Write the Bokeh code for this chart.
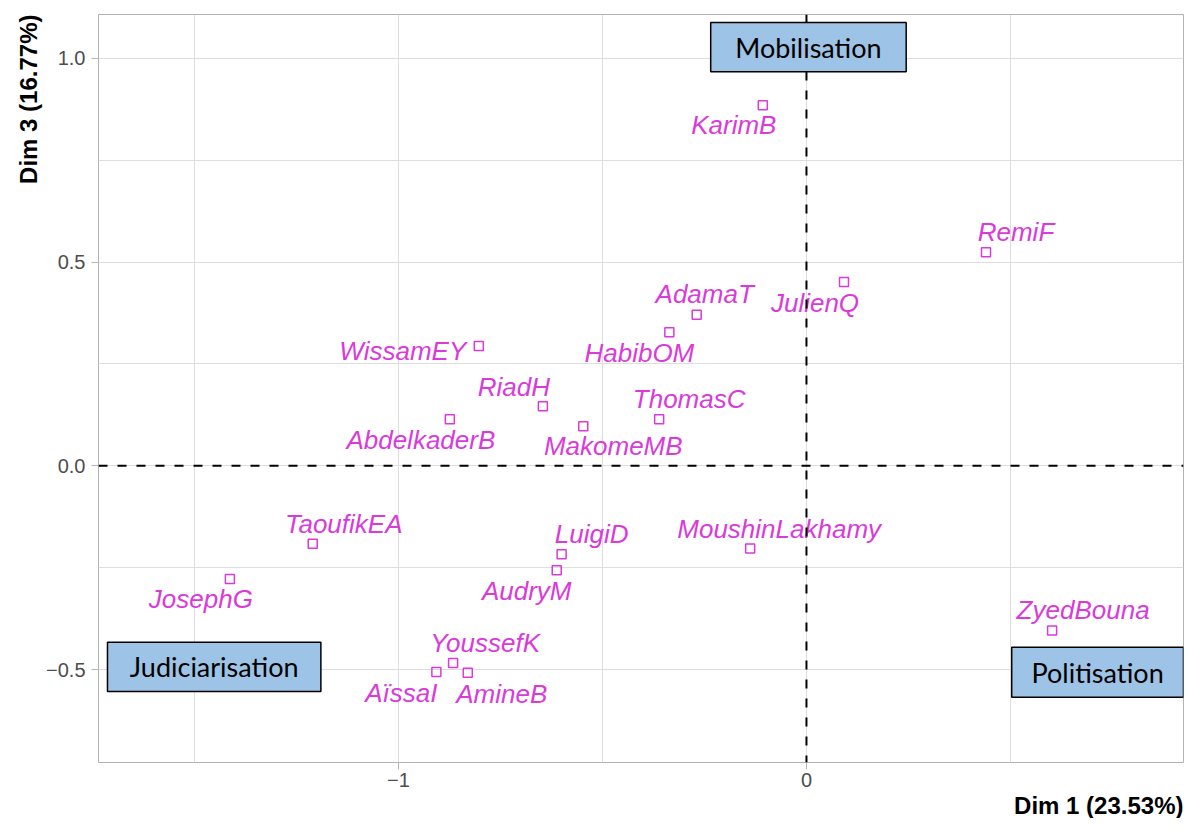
from bokeh.plotting import figure
from bokeh.models import (Range1d, FixedTicker, Title, BoxAnnotation, Label, Span,
                          ColumnDataSource, CustomJSTickFormatter)
from bokeh.core.properties import value
from bokeh.embed import file_html
from bokeh.resources import INLINE

# ---- data ----
names = ["KarimB", "RemiF", "JulienQ", "AdamaT", "HabibOM", "WissamEY", "RiadH",
         "AbdelkaderB", "MakomeMB", "ThomasC", "TaoufikEA", "JosephG", "LuigiD",
         "AudryM", "MoushinLakhamy", "ZyedBouna", "YoussefK", "AïssaI", "AmineB"]
dim1 = [-0.107, 0.440, 0.092, -0.269, -0.336, -0.803, -0.646,
        -0.874, -0.547, -0.361, -1.210, -1.413, -0.600,
        -0.612, -0.138, 0.602, -0.866, -0.907, -0.830]
dim3 = [0.885, 0.524, 0.451, 0.371, 0.328, 0.294, 0.146,
        0.114, 0.097, 0.114, -0.191, -0.278, -0.217,
        -0.256, -0.203, -0.404, -0.484, -0.506, -0.508]

# label placement (screen px offsets from the point, y downwards)
label_dx = [-29, 30, -29, 8, -30, -76, -29, -29, 30, 30, 31, -29, 30, -30, 29, 31, 32, -35, 34]
label_dy = [20, -20, 21, -21, 21, 5, -19, 21, 20, -20, -20, 20, -20, 21, -20, -20, -20, 21, 21]

x_ticks = [-1, 0]
x_minor = [-1.5, -0.5, 0.5]
y_ticks = [-0.5, 0.0, 0.5, 1.0]
y_minor = [-0.25, 0.25, 0.75]

x_title = "Dim 1 (23.53%)"
y_title = "Dim 3 (16.77%)"

MAG = "#D93BD9"
BOX_FILL = "#9DC3E6"
FONT = "Liberation Sans"

src = ColumnDataSource(dict(x=dim1, y=dim3, name=names, dx=label_dx, dy=label_dy))

p = figure(width=1185, height=818, title=None,
           x_range=Range1d(-1.735, 0.924), y_range=Range1d(-0.728, 1.1075),
           output_backend="svg", toolbar_location=None,
           min_border_left=98, min_border_right=2, min_border_top=14, min_border_bottom=54)

p.background_fill_color = "white"
p.border_fill_color = "white"
p.outline_line_color = "#B3B3B3"
p.outline_line_width = 1

p.xaxis.ticker = FixedTicker(ticks=x_ticks, minor_ticks=x_minor)
p.yaxis.ticker = FixedTicker(ticks=y_ticks, minor_ticks=y_minor)
p.xaxis.formatter = CustomJSTickFormatter(code="return tick.toFixed(0).replace('-', '\u2212');")
p.yaxis.formatter = CustomJSTickFormatter(code="return tick.toFixed(1).replace('-', '\u2212');")

for ax in (p.xaxis, p.yaxis):
    ax.axis_line_color = None
    ax.major_tick_line_color = "#B3B3B3"
    ax.major_tick_in = 0
    ax.major_tick_out = 7
    ax.minor_tick_line_color = None
    ax.major_label_text_font = FONT
    ax.major_label_text_font_size = "20px"
    ax.major_label_text_color = "#4D4D4D"
p.yaxis.major_label_standoff = 6
p.xaxis.major_label_standoff = 3

for g in (p.xgrid, p.ygrid):
    g.grid_line_color = "#DEDEDE"
    g.grid_line_width = 1
    g.minor_grid_line_color = "#DEDEDE"
    g.minor_grid_line_width = 1

p.add_layout(Title(text=x_title, align="right", text_font=FONT,
                   text_font_style="bold", text_font_size="24px", text_color="black",
                   standoff=0), "below")
p.add_layout(Title(text=y_title, align="right", text_font=FONT,
                   text_font_style="bold", text_font_size="24px", text_color="black",
                   standoff=4), "left")

# reference lines
p.add_layout(Span(location=0, dimension="height", line_color="black",
                  line_width=2, line_dash="9 10"))
p.add_layout(Span(location=0, dimension="width", line_color="black",
                  line_width=2, line_dash="9 10"))

p.scatter("x", "y", source=src, marker="square", size=9, fill_color=None,
          line_color=MAG, line_width=1.5)
p.text("x", "y", text="name", source=src, x_offset="dx", y_offset="dy",
       text_align="center", text_baseline="middle", text_font=value(FONT),
       text_font_style="italic", text_font_size="26px", text_color=MAG)

# annotation boxes
boxes = [
    ("Mobilisation", -0.2347, 0.2444, 1.088, 0.967),
    ("Judiciarisation", -1.713, -1.190, -0.433, -0.554),
    ("Politisation", 0.503, 0.924, -0.445, -0.568),
]
for txt, l, r, t, b in boxes:
    p.add_layout(BoxAnnotation(left=l, right=r, top=t, bottom=b,
                               fill_color=BOX_FILL, fill_alpha=1.0,
                               line_color="black", line_width=1.5, line_alpha=1.0))
    p.add_layout(Label(x=(l + r) / 2, y=(t + b) / 2, text=txt,
                       text_align="center", text_baseline="middle",
                       text_font="Lato", text_font_size="27px", text_color="black"))

open("out.html", "w").write(file_html(p, INLINE))
